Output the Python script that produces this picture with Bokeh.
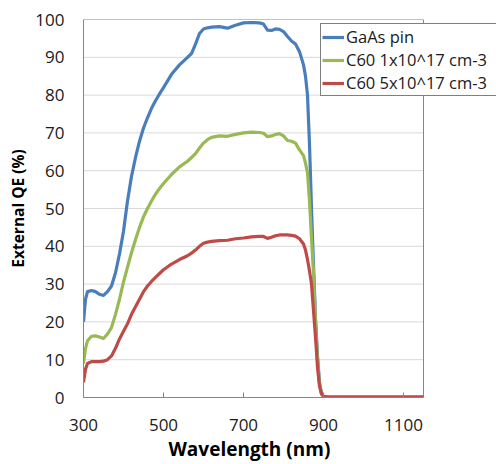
from bokeh.plotting import figure
from bokeh.models import Legend, LegendItem, FixedTicker, Range1d, Title
from bokeh.embed import file_html
from bokeh.resources import INLINE

wavelength = [300, 305, 310, 320, 330, 340, 350, 360, 370, 380, 390, 400, 405, 410, 420,
              430, 440, 450, 460, 470, 480, 490, 500, 520, 540, 560, 570, 580, 590, 600,
              610, 620, 640, 660, 680, 700, 720, 740, 750, 760, 770, 780, 790, 800, 810,
              820, 830, 840, 850, 855, 860, 865, 870, 875, 880, 885, 890, 895, 900, 910,
              950, 1000, 1050, 1100, 1150]

gaas_pin = [20, 26, 28, 28.3, 28, 27.3, 27, 28, 29.5, 33, 38, 44, 48, 52, 58.5,
            63.5, 67.8, 71.3, 74, 76.5, 78.5, 80.3, 82, 85.5, 88, 90, 91, 93.5, 96.3, 97.5,
            97.8, 98, 98.1, 97.7, 98.5, 99.1, 99.2, 99.1, 98.8, 97.2, 97.1, 97.5, 97.4, 96.8, 95.5,
            94.3, 93.5, 91.5, 88, 85, 80, 67, 50, 35, 21, 11, 4, 1, 0.3, 0.1,
            0.1, 0.1, 0.1, 0.1, 0.1]

c60_1e17 = [9, 13, 15, 16.2, 16.3, 16, 15.6, 16.8, 18.5, 22, 26, 30.5, 32.5, 34.5, 38.3,
            41.8, 45, 47.8, 50, 52, 53.8, 55.3, 56.6, 59, 61, 62.5, 63.5, 64.5, 66, 67.3,
            68.2, 68.8, 69.2, 69.1, 69.6, 70, 70.2, 70.1, 69.9, 69, 69.2, 69.6, 69.8, 69.2, 68,
            67.8, 67.3, 65.5, 64, 62, 59.5, 52, 42, 33, 20, 10, 3.5, 1, 0.3, 0.1,
            0.1, 0.1, 0.1, 0.1, 0.1]

c60_5e17 = [4, 7.5, 9, 9.5, 9.5, 9.5, 9.6, 10, 11, 13, 15.5, 17.5, 18.5, 19.5, 22,
            24, 26, 28, 29.5, 30.7, 31.8, 32.8, 33.8, 35.3, 36.5, 37.5, 38.2, 39, 40, 40.8,
            41.1, 41.3, 41.5, 41.6, 42, 42.2, 42.5, 42.6, 42.6, 42.1, 42.4, 42.8, 43, 43, 43,
            42.9, 42.7, 42, 40.6, 39, 36.5, 33.5, 30, 23, 16, 8, 3, 1, 0.3, 0.1,
            0.1, 0.1, 0.1, 0.1, 0.1]

series_names = ["GaAs pin", "C60 1x10^17 cm-3", "C60 5x10^17 cm-3"]
series_colors = ["#4A7EBB", "#98B954", "#BE4B48"]
x_ticks = [300, 500, 700, 900, 1100]
y_ticks = [0, 10, 20, 30, 40, 50, 60, 70, 80, 90, 100]
x_min, x_max = 300, 1150
y_min, y_max = 0, 100

FONT = "Open Sans"
AXIS_GREY = "#868686"
GRID_GREY = "#D9D9D9"

# Chart area is 340 px wide; the frame continues to the canvas edge so the
# legend can overhang the chart border as in the reference.
W, H = 496, 464
LEFT, TOP, BOTTOM = 83, 19, 67
CHART_W = 340
px_per_nm = CHART_W / (x_max - x_min)
x_view_end = x_min + (W - LEFT) / px_per_nm

p = figure(width=W, height=H, output_backend="svg", toolbar_location=None,
           x_range=Range1d(x_min, x_view_end), y_range=Range1d(y_min, y_max),
           min_border_left=LEFT, min_border_right=0, min_border_top=TOP,
           min_border_bottom=BOTTOM)

p.background_fill_color = "white"
p.border_fill_color = "white"
p.outline_line_color = None
p.xgrid.grid_line_color = None
p.ygrid.grid_line_color = None

grid_y = [t for t in y_ticks if y_min < t < y_max]
p.segment(x0=[x_min] * len(grid_y), y0=grid_y, x1=[x_max] * len(grid_y), y1=grid_y,
          line_color=GRID_GREY, line_width=1)
p.segment(x0=[x_min, x_max], y0=[y_max, y_min], x1=[x_max, x_max], y1=[y_max, y_max],
          line_color=AXIS_GREY, line_width=1)

p.xaxis.ticker = FixedTicker(ticks=x_ticks)
p.yaxis.ticker = FixedTicker(ticks=y_ticks)
p.xaxis.bounds = (x_min, x_max)
p.xaxis.minor_tick_line_color = None
p.yaxis.minor_tick_line_color = None
p.xaxis.major_tick_in = 5
p.xaxis.major_tick_out = 0
p.xaxis.major_tick_line_color = AXIS_GREY
p.yaxis.major_tick_in = 0
p.yaxis.major_tick_out = 0
p.xaxis.axis_line_color = AXIS_GREY
p.yaxis.axis_line_color = AXIS_GREY

for ax in (p.xaxis, p.yaxis):
    ax.major_label_text_font = FONT
    ax.major_label_text_font_size = "17px"
    ax.major_label_text_color = "#1a1a1a"

p.xaxis.major_label_standoff = 21
p.yaxis.major_label_standoff = 19

p.yaxis.axis_label = "External QE (%)"
p.yaxis.axis_label_text_font = FONT
p.yaxis.axis_label_text_font_style = "bold"
p.yaxis.axis_label_text_font_size = "15.5px"
p.yaxis.axis_label_text_color = "#000000"
p.yaxis.axis_label_standoff = 3

# x-axis title, centred under the chart area (not the extended frame):
# left-aligned with an offset so that its centre sits under the chart centre
xtitle = Title(text="Wavelength (nm)", align="left", offset=85,
               text_font=FONT, text_font_style="bold", text_font_size="19px",
               text_color="#000000", standoff=0)
p.add_layout(xtitle, "below")

renderers = []
for vals, col in zip([gaas_pin, c60_1e17, c60_5e17], series_colors):
    r = p.line(wavelength, vals, line_color=col, line_width=3.2, line_join="round")
    renderers.append(r)

items = [LegendItem(label=n, renderers=[r]) for n, r in zip(series_names, renderers)]
legend = Legend(items=items, location=(237, 301))
legend.border_line_color = "black"
legend.border_line_width = 1.5
legend.background_fill_color = "white"
legend.background_fill_alpha = 1
legend.label_text_font = FONT
legend.label_text_font_size = "16.5px"
legend.label_text_color = "#1a1a1a"
legend.glyph_width = 22
legend.glyph_height = 22
legend.label_height = 22
legend.label_width = 165
legend.label_standoff = 2
legend.spacing = 0
legend.padding = 1
legend.margin = 0
p.add_layout(legend, "center")

open("out.html", "w").write(file_html(p, INLINE))
